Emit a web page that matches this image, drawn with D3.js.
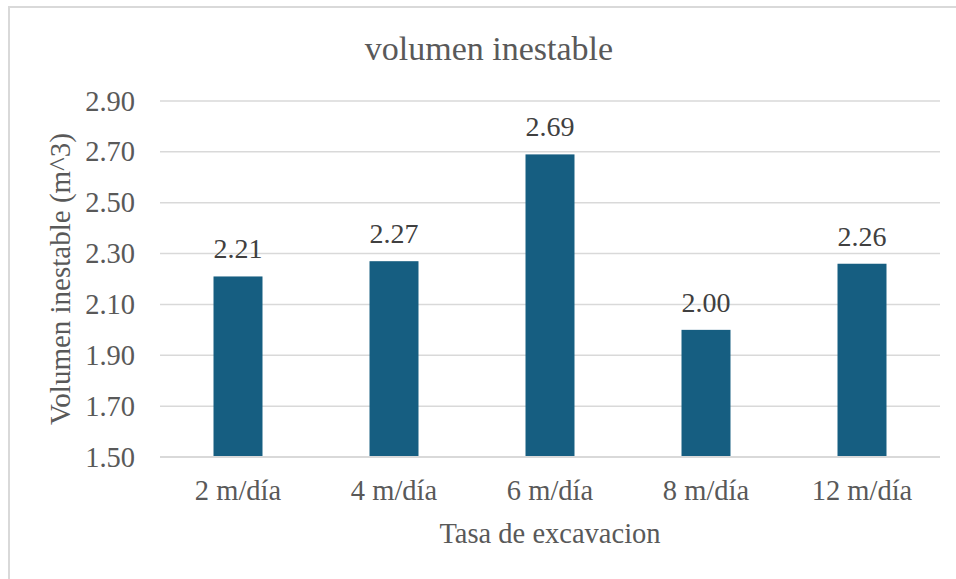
<!DOCTYPE html>
<html>
<head>
<meta charset="utf-8">
<script src="https://cdn.jsdelivr.net/npm/d3@7/dist/d3.min.js"></script>
<style>
  html, body { margin: 0; padding: 0; background: #fff; }
  svg { display: block; }
</style>
</head>
<body>
<svg id="chart" width="956" height="579"></svg>
<script>
// Unstable volume per excavation rate
const categories = ["2 m/día", "4 m/día", "6 m/día", "8 m/día", "12 m/día"];
const volumes = [2.21, 2.27, 2.69, 2.00, 2.26];
const yTicks = [1.50, 1.70, 1.90, 2.10, 2.30, 2.50, 2.70, 2.90];

const chartTitle = "volumen inestable";
const xTitle = "Tasa de excavacion";
const yTitle = "Volumen inestable (m^3)";

const FONT = "'Liberation Serif', 'Times New Roman', Times, serif";

const svg = d3.select("#chart");

// outer chart frame (only top and left edges fall inside the page)
svg.append("rect")
  .attr("x", 9).attr("y", 7)
  .attr("width", 1000).attr("height", 700)
  .attr("fill", "#fff")
  .attr("stroke", "#d9d9d9")
  .attr("stroke-width", 2);

const plot = { left: 160, right: 940, top: 101, bottom: 457 };

const x = d3.scaleBand()
  .domain(categories)
  .range([plot.left, plot.right])
  .paddingInner(0.686)
  .paddingOuter(0.343);

const y = d3.scaleLinear()
  .domain([1.5, 2.9])
  .range([plot.bottom, plot.top]);

// horizontal gridlines
svg.append("g")
  .selectAll("line")
  .data(yTicks)
  .join("line")
  .attr("x1", plot.left).attr("x2", plot.right)
  .attr("y1", d => y(d)).attr("y2", d => y(d))
  .attr("stroke", "#d9d9d9")
  .attr("stroke-width", 1.5);

// y axis tick labels
const yAxis = d3.axisLeft(y)
  .tickValues(yTicks)
  .tickFormat(d3.format(".2f"))
  .tickSize(0)
  .tickPadding(0);

svg.append("g")
  .attr("transform", `translate(${plot.left - 25},0)`)
  .call(yAxis)
  .call(g => g.select(".domain").remove())
  .call(g => g.selectAll("text")
    .style("font-family", FONT)
    .style("font-size", "28.5px")
    .attr("fill", "#595959")
    .attr("dy", "0.32em"));

// bars
svg.append("g")
  .selectAll("rect")
  .data(volumes)
  .join("rect")
  .attr("x", (d, i) => x(categories[i]))
  .attr("y", d => y(d))
  .attr("width", x.bandwidth())
  .attr("height", d => y(1.5) - y(d))
  .attr("fill", "#165e81");

// value labels
svg.append("g")
  .selectAll("text")
  .data(volumes)
  .join("text")
  .attr("x", (d, i) => x(categories[i]) + x.bandwidth() / 2)
  .attr("y", d => y(d) - 18)
  .attr("text-anchor", "middle")
  .style("font-family", FONT)
  .style("font-size", "28px")
  .attr("fill", "#404040")
  .text(d => d.toFixed(2));

// x axis line and category labels
svg.append("line")
  .attr("x1", plot.left).attr("x2", plot.right)
  .attr("y1", y(1.5)).attr("y2", y(1.5))
  .attr("stroke", "#d9d9d9")
  .attr("stroke-width", 2);

const xAxis = d3.axisBottom(x).tickSize(0).tickPadding(0);
svg.append("g")
  .attr("transform", `translate(0,${y(1.5)})`)
  .call(xAxis)
  .call(g => g.select(".domain").remove())
  .call(g => g.selectAll("text")
    .style("font-family", FONT)
    .style("font-size", "28.5px")
    .attr("fill", "#595959")
    .attr("dy", null)
    .attr("y", 43));

// titles
svg.append("text")
  .attr("x", 489).attr("y", 60)
  .attr("text-anchor", "middle")
  .style("font-family", FONT)
  .style("font-size", "34px")
  .attr("fill", "#595959")
  .text(chartTitle);

svg.append("text")
  .attr("x", (plot.left + plot.right) / 2).attr("y", 543)
  .attr("text-anchor", "middle")
  .style("font-family", FONT)
  .style("font-size", "28.5px")
  .attr("fill", "#595959")
  .text(xTitle);

svg.append("text")
  .attr("transform", `translate(70,279) rotate(-90)`)
  .attr("text-anchor", "middle")
  .style("font-family", FONT)
  .style("font-size", "29px")
  .attr("fill", "#595959")
  .text(yTitle);
</script>
</body>
</html>
